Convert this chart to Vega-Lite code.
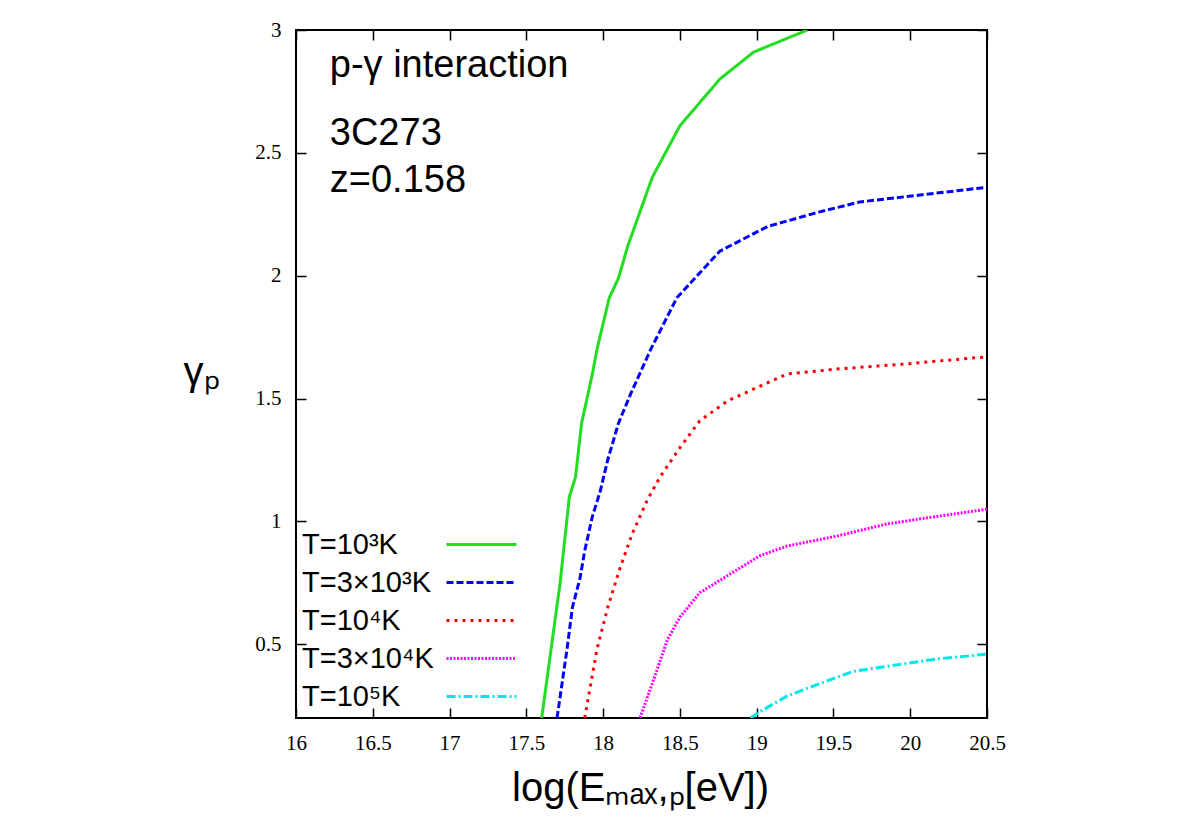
{
  "$schema": "https://vega.github.io/schema/vega-lite/v6.json",
  "width": 691,
  "height": 688,
  "autosize": {"type": "none"},
  "padding": {"left": 296, "top": 30, "right": 209, "bottom": 119},
  "background": "white",
  "config": {
    "view": {"stroke": "black", "strokeWidth": 2},
    "axis": {
      "domain": false,
      "grid": false,
      "ticks": true,
      "tickColor": "black",
      "tickWidth": 1.5,
      "tickSize": -10,
      "labelFont": "Liberation Serif",
      "labelFontSize": 21,
      "labelColor": "black",
      "titleFont": "Liberation Sans",
      "titleFontSize": 40,
      "titleFontWeight": "normal",
      "titleColor": "black"
    }
  },
  "datasets": {
    "curves": [
      {"T": "T=10³K", "x": 17.6, "y": 0.2},
      {"T": "T=10³K", "x": 17.72, "y": 0.75},
      {"T": "T=10³K", "x": 17.78, "y": 1.1},
      {"T": "T=10³K", "x": 17.82, "y": 1.18},
      {"T": "T=10³K", "x": 17.86, "y": 1.4},
      {"T": "T=10³K", "x": 17.93, "y": 1.6},
      {"T": "T=10³K", "x": 17.96, "y": 1.7},
      {"T": "T=10³K", "x": 18.04, "y": 1.91},
      {"T": "T=10³K", "x": 18.1, "y": 1.99},
      {"T": "T=10³K", "x": 18.16, "y": 2.12},
      {"T": "T=10³K", "x": 18.32, "y": 2.4},
      {"T": "T=10³K", "x": 18.5, "y": 2.61},
      {"T": "T=10³K", "x": 18.76, "y": 2.8},
      {"T": "T=10³K", "x": 18.98, "y": 2.91},
      {"T": "T=10³K", "x": 19.33, "y": 3.0},
      {"T": "T=3×10³K", "x": 17.7, "y": 0.2},
      {"T": "T=3×10³K", "x": 17.765, "y": 0.48},
      {"T": "T=3×10³K", "x": 17.8, "y": 0.65},
      {"T": "T=3×10³K", "x": 17.85, "y": 0.77},
      {"T": "T=3×10³K", "x": 17.88, "y": 0.88},
      {"T": "T=3×10³K", "x": 17.93, "y": 1.02},
      {"T": "T=3×10³K", "x": 17.98, "y": 1.12},
      {"T": "T=3×10³K", "x": 18.03, "y": 1.25},
      {"T": "T=3×10³K", "x": 18.1, "y": 1.4},
      {"T": "T=3×10³K", "x": 18.18, "y": 1.52},
      {"T": "T=3×10³K", "x": 18.31, "y": 1.7},
      {"T": "T=3×10³K", "x": 18.48, "y": 1.91},
      {"T": "T=3×10³K", "x": 18.76, "y": 2.1},
      {"T": "T=3×10³K", "x": 19.07, "y": 2.2},
      {"T": "T=3×10³K", "x": 19.41, "y": 2.26},
      {"T": "T=3×10³K", "x": 19.67, "y": 2.3},
      {"T": "T=3×10³K", "x": 20.5, "y": 2.36},
      {"T": "T=10⁴K", "x": 17.88, "y": 0.2},
      {"T": "T=10⁴K", "x": 17.96, "y": 0.48},
      {"T": "T=10⁴K", "x": 18.03, "y": 0.65},
      {"T": "T=10⁴K", "x": 18.11, "y": 0.81},
      {"T": "T=10⁴K", "x": 18.19, "y": 0.95},
      {"T": "T=10⁴K", "x": 18.29, "y": 1.09},
      {"T": "T=10⁴K", "x": 18.37, "y": 1.18},
      {"T": "T=10⁴K", "x": 18.5, "y": 1.3},
      {"T": "T=10⁴K", "x": 18.63, "y": 1.41},
      {"T": "T=10⁴K", "x": 18.81, "y": 1.49},
      {"T": "T=10⁴K", "x": 19.02, "y": 1.55},
      {"T": "T=10⁴K", "x": 19.2, "y": 1.6},
      {"T": "T=10⁴K", "x": 19.52, "y": 1.62},
      {"T": "T=10⁴K", "x": 19.95, "y": 1.64},
      {"T": "T=10⁴K", "x": 20.5, "y": 1.67},
      {"T": "T=3×10⁴K", "x": 18.24, "y": 0.2},
      {"T": "T=3×10⁴K", "x": 18.32, "y": 0.34},
      {"T": "T=3×10⁴K", "x": 18.42, "y": 0.52},
      {"T": "T=3×10⁴K", "x": 18.5, "y": 0.61},
      {"T": "T=3×10⁴K", "x": 18.63, "y": 0.71},
      {"T": "T=3×10⁴K", "x": 18.76, "y": 0.76},
      {"T": "T=3×10⁴K", "x": 18.89, "y": 0.81},
      {"T": "T=3×10⁴K", "x": 19.02, "y": 0.86},
      {"T": "T=3×10⁴K", "x": 19.2, "y": 0.9},
      {"T": "T=3×10⁴K", "x": 19.52, "y": 0.94},
      {"T": "T=3×10⁴K", "x": 19.85, "y": 0.99},
      {"T": "T=3×10⁴K", "x": 20.17, "y": 1.02},
      {"T": "T=3×10⁴K", "x": 20.5, "y": 1.05},
      {"T": "T=10⁵K", "x": 18.96, "y": 0.2},
      {"T": "T=10⁵K", "x": 19.02, "y": 0.225},
      {"T": "T=10⁵K", "x": 19.2, "y": 0.29},
      {"T": "T=10⁵K", "x": 19.41, "y": 0.34},
      {"T": "T=10⁵K", "x": 19.63, "y": 0.39},
      {"T": "T=10⁵K", "x": 19.74, "y": 0.4},
      {"T": "T=10⁵K", "x": 19.95, "y": 0.42},
      {"T": "T=10⁵K", "x": 20.17, "y": 0.44},
      {"T": "T=10⁵K", "x": 20.5, "y": 0.46}
    ],
    "notes": [
      {"x": 16.22, "y": 2.81, "text": "p-γ interaction"},
      {"x": 16.22, "y": 2.532, "text": "3C273"},
      {"x": 16.22, "y": 2.341, "text": "z=0.158"}
    ]
  },
  "layer": [
    {
      "data": {"name": "curves"},
      "mark": {"type": "line", "strokeWidth": 3, "clip": true},
      "encoding": {
        "x": {
          "field": "x", "type": "quantitative",
          "scale": {"domain": [16, 20.5], "nice": false, "zero": false},
          "axis": {
            "orient": "bottom",
            "values": [16, 16.5, 17, 17.5, 18, 18.5, 19, 19.5, 20, 20.5],
            "format": "~g",
            "labelPadding": 24,
            "labelFlush": false,
            "title": "log(Eₘₐₓ,ₚ[eV])",
            "titleX": 344,
            "titleY": 82,
            "titleBaseline": "alphabetic",
            "titleAlign": "center"
          }
        },
        "y": {
          "field": "y", "type": "quantitative",
          "scale": {"domain": [0.2, 3], "nice": false, "zero": false},
          "axis": {
            "orient": "left",
            "values": [0.5, 1, 1.5, 2, 2.5, 3],
            "format": "~g",
            "labelPadding": 25,
            "labelFlush": false,
            "title": "γₚ",
            "titleAngle": 0,
            "titleX": -95,
            "titleY": 342,
            "titleAlign": "center",
            "titleBaseline": "middle"
          }
        },
        "color": {
          "field": "T", "type": "nominal",
          "scale": {
            "domain": ["T=10³K", "T=3×10³K", "T=10⁴K", "T=3×10⁴K", "T=10⁵K"],
            "range": ["#22dd22", "#0000ff", "#ff0000", "#ff00ff", "#00e8e8"]
          },
          "legend": {
            "title": null,
            "orient": "none",
            "legendX": 4,
            "legendY": 500,
            "symbolType": "M-3,0H3",
            "symbolSize": 544,
            "symbolStrokeWidth": 3,
            "symbolOffset": 167,
            "labelOffset": -194,
            "labelFont": "Liberation Sans",
            "labelFontSize": 29,
            "labelColor": "black",
            "rowPadding": 8,
            "labelLimit": 300
          }
        },
        "strokeDash": {
          "field": "T", "type": "nominal",
          "scale": {
            "domain": ["T=10³K", "T=3×10³K", "T=10⁴K", "T=3×10⁴K", "T=10⁵K"],
            "range": [[1, 0], [7, 3], [3, 5], [2, 1.5], [9, 3, 2, 3]]
          },
          "legend": null
        }
      }
    },
    {
      "data": {"name": "notes"},
      "mark": {"type": "text", "align": "left", "baseline": "alphabetic", "font": "Liberation Sans", "fontSize": 38, "color": "black"},
      "encoding": {
        "x": {
          "field": "x", "type": "quantitative",
          "scale": {"domain": [16, 20.5], "nice": false, "zero": false},
          "axis": {"orient": "top", "values": [16, 16.5, 17, 17.5, 18, 18.5, 19, 19.5, 20, 20.5], "labels": false, "title": null}
        },
        "y": {
          "field": "y", "type": "quantitative",
          "scale": {"domain": [0.2, 3], "nice": false, "zero": false},
          "axis": {"orient": "right", "values": [0.5, 1, 1.5, 2, 2.5, 3], "labels": false, "title": null}
        },
        "text": {"field": "text"}
      }
    }
  ],
  "resolve": {"axis": {"x": "independent", "y": "independent"}}
}
